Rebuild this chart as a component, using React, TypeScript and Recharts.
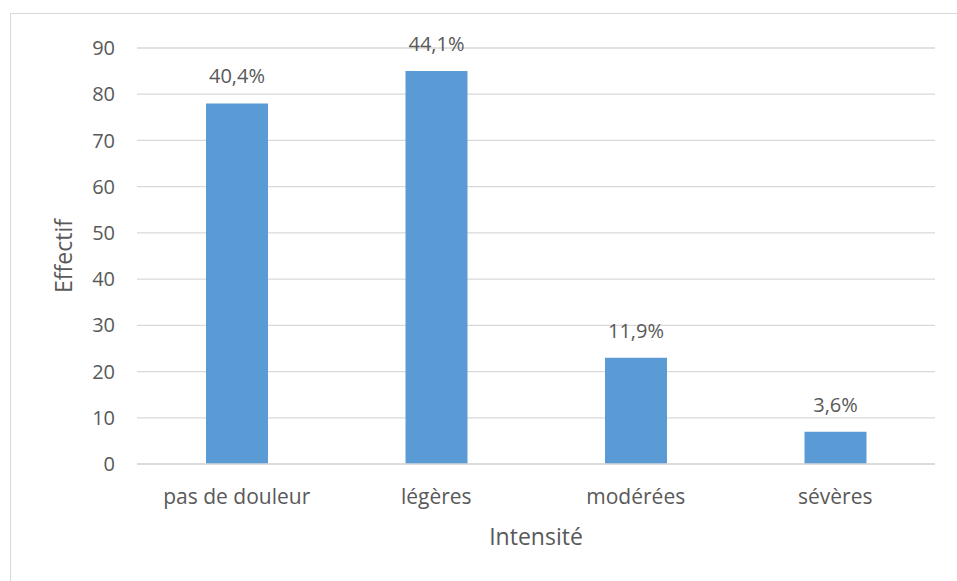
import { Bar, BarChart, CartesianGrid, LabelList, XAxis, YAxis } from "recharts";

const categories = ["pas de douleur", "légères", "modérées", "sévères"];
const effectifs = [78, 85, 23, 7];
const pourcentages = ["40,4%", "44,1%", "11,9%", "3,6%"];
const yTicks = [0, 10, 20, 30, 40, 50, 60, 70, 80, 90];

const data = categories.map((name, i) => ({
  name,
  value: effectifs[i],
  pct: pourcentages[i],
}));

const font = "'Open Sans', 'Liberation Sans', sans-serif";
const textColor = "#595959";

export default function App() {
  return (
    <div style={{ position: "absolute", left: 0, top: 0, width: 957, height: 581, overflow: "hidden", background: "#fff" }}>
      <div
        style={{
          position: "absolute",
          left: 10,
          top: 13,
          width: 980,
          height: 600,
          border: "1px solid #d9d9d9",
        }}
      />
      <div style={{ position: "absolute", left: 0, top: 0 }}>
        <BarChart
          width={957}
          height={581}
          data={data}
          margin={{ top: 48, right: 22, bottom: 0, left: 77 }}
          style={{ fontFamily: font }}
        >
          <CartesianGrid vertical={false} stroke="#d9d9d9" strokeWidth={1.3} />
          <XAxis
            dataKey="name"
            height={117}
            axisLine={{ stroke: "#d9d9d9", strokeWidth: 1.3 }}
            tickLine={false}
            tickMargin={19}
            tick={{ fill: textColor, fontSize: 21 }}
            label={{ value: "Intensité", position: "insideTop", dy: 60, fill: textColor, fontSize: 23 }}
          />
          <YAxis
            width={60}
            domain={[0, 90]}
            ticks={yTicks}
            axisLine={false}
            tickLine={false}
            tickSize={0}
            tickMargin={22}
            tick={{ fill: textColor, fontSize: 20 }}
            label={{ value: "Effectif", angle: -90, position: "insideLeft", dx: -18, dy: 0, fill: textColor, fontSize: 23, style: { textAnchor: "middle" } }}
          />
          <Bar dataKey="value" fill="#5b9bd5" barSize={62} isAnimationActive={false}>
            <LabelList dataKey="pct" position="top" offset={20} fill={textColor} fontSize={20} />
          </Bar>
        </BarChart>
      </div>
    </div>
  );
}
